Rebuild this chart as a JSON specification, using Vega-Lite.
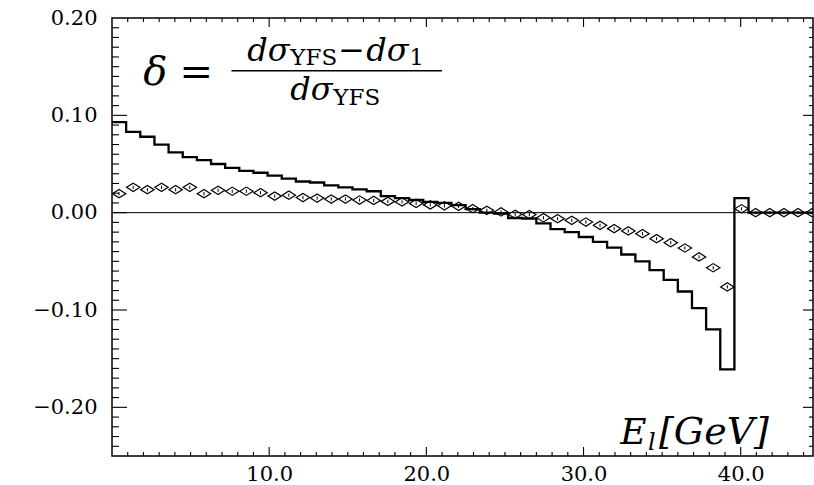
{
  "$schema": "https://vega.github.io/schema/vega-lite/v6.json",
  "width": 701,
  "height": 438,
  "autosize": {"type": "none"},
  "padding": {"left": 112, "top": 18, "right": 1, "bottom": 29},
  "background": "white",
  "config": {
    "view": {"stroke": "black", "strokeWidth": 1.5},
    "axis": {"domain": false, "grid": false, "ticks": false, "labelFont": "DejaVu Serif", "labelFontSize": 21, "labelColor": "black", "title": null, "labelOverlap": false, "labelFlush": false, "labelBound": false}
  },
  "datasets": {
    "steps": [
      {"e": 0, "delta": 0.093}, {"e": 0.9, "delta": 0.083}, {"e": 1.8, "delta": 0.078}, {"e": 2.7, "delta": 0.070},
      {"e": 3.6, "delta": 0.062}, {"e": 4.5, "delta": 0.057}, {"e": 5.4, "delta": 0.054}, {"e": 6.3, "delta": 0.050},
      {"e": 7.2, "delta": 0.046}, {"e": 8.1, "delta": 0.043}, {"e": 9.0, "delta": 0.041}, {"e": 9.9, "delta": 0.038},
      {"e": 10.8, "delta": 0.035}, {"e": 11.7, "delta": 0.032}, {"e": 12.6, "delta": 0.031}, {"e": 13.5, "delta": 0.028},
      {"e": 14.4, "delta": 0.026}, {"e": 15.3, "delta": 0.024}, {"e": 16.2, "delta": 0.022}, {"e": 17.1, "delta": 0.017},
      {"e": 18.0, "delta": 0.015}, {"e": 18.9, "delta": 0.013}, {"e": 19.8, "delta": 0.011}, {"e": 20.7, "delta": 0.010},
      {"e": 21.6, "delta": 0.0077}, {"e": 22.5, "delta": 0.0036}, {"e": 23.4, "delta": 0.0}, {"e": 24.3, "delta": -0.001},
      {"e": 25.2, "delta": -0.0055}, {"e": 26.1, "delta": -0.006}, {"e": 27.0, "delta": -0.011}, {"e": 27.9, "delta": -0.017},
      {"e": 28.8, "delta": -0.020}, {"e": 29.7, "delta": -0.025}, {"e": 30.6, "delta": -0.030}, {"e": 31.5, "delta": -0.036},
      {"e": 32.4, "delta": -0.043}, {"e": 33.3, "delta": -0.050}, {"e": 34.2, "delta": -0.059}, {"e": 35.1, "delta": -0.069},
      {"e": 36.0, "delta": -0.081}, {"e": 36.9, "delta": -0.098}, {"e": 37.8, "delta": -0.120}, {"e": 38.7, "delta": -0.161},
      {"e": 39.6, "delta": 0.015}, {"e": 40.5, "delta": 0.0}, {"e": 44.6, "delta": 0.0}
    ],
    "diamonds": [
      {"e": 0.45, "delta": 0.0195}, {"e": 1.35, "delta": 0.026}, {"e": 2.25, "delta": 0.0236}, {"e": 3.15, "delta": 0.026},
      {"e": 4.05, "delta": 0.0236}, {"e": 4.95, "delta": 0.026}, {"e": 5.85, "delta": 0.0195}, {"e": 6.75, "delta": 0.023},
      {"e": 7.65, "delta": 0.022}, {"e": 8.55, "delta": 0.022}, {"e": 9.45, "delta": 0.0205}, {"e": 10.35, "delta": 0.017},
      {"e": 11.25, "delta": 0.018}, {"e": 12.15, "delta": 0.0155}, {"e": 13.05, "delta": 0.015}, {"e": 13.95, "delta": 0.014},
      {"e": 14.85, "delta": 0.014}, {"e": 15.75, "delta": 0.013}, {"e": 16.65, "delta": 0.0126}, {"e": 17.55, "delta": 0.0116},
      {"e": 18.45, "delta": 0.011}, {"e": 19.35, "delta": 0.0095}, {"e": 20.25, "delta": 0.008}, {"e": 21.15, "delta": 0.007},
      {"e": 22.05, "delta": 0.0065}, {"e": 22.95, "delta": 0.0041}, {"e": 23.85, "delta": 0.0024}, {"e": 24.75, "delta": 0.0007},
      {"e": 25.65, "delta": -0.0017}, {"e": 26.55, "delta": -0.002}, {"e": 27.45, "delta": -0.0052}, {"e": 28.35, "delta": -0.0062},
      {"e": 29.25, "delta": -0.0079}, {"e": 30.15, "delta": -0.0096}, {"e": 31.05, "delta": -0.013}, {"e": 31.95, "delta": -0.0164},
      {"e": 32.85, "delta": -0.0188}, {"e": 33.75, "delta": -0.0216}, {"e": 34.65, "delta": -0.0267}, {"e": 35.55, "delta": -0.0308},
      {"e": 36.45, "delta": -0.0363}, {"e": 37.35, "delta": -0.0455}, {"e": 38.25, "delta": -0.0566}, {"e": 39.15, "delta": -0.0763},
      {"e": 40.05, "delta": 0.004}, {"e": 40.95, "delta": 0.0}, {"e": 41.85, "delta": 0.0}, {"e": 42.75, "delta": 0.0},
      {"e": 43.65, "delta": 0.0}, {"e": 44.55, "delta": 0.0}
    ],
    "xmajor": [{"v": 10}, {"v": 20}, {"v": 30}, {"v": 40}],
    "xminor": [{"v": 1}, {"v": 2}, {"v": 3}, {"v": 4}, {"v": 5}, {"v": 6}, {"v": 7}, {"v": 8}, {"v": 9},
      {"v": 11}, {"v": 12}, {"v": 13}, {"v": 14}, {"v": 15}, {"v": 16}, {"v": 17}, {"v": 18}, {"v": 19},
      {"v": 21}, {"v": 22}, {"v": 23}, {"v": 24}, {"v": 25}, {"v": 26}, {"v": 27}, {"v": 28}, {"v": 29},
      {"v": 31}, {"v": 32}, {"v": 33}, {"v": 34}, {"v": 35}, {"v": 36}, {"v": 37}, {"v": 38}, {"v": 39},
      {"v": 41}, {"v": 42}, {"v": 43}, {"v": 44}],
    "ymajor": [{"v": -0.2}, {"v": -0.1}, {"v": 0}, {"v": 0.1}],
    "yminor": [{"v": -0.24}, {"v": -0.23}, {"v": -0.22}, {"v": -0.21},
      {"v": -0.19}, {"v": -0.18}, {"v": -0.17}, {"v": -0.16}, {"v": -0.15}, {"v": -0.14}, {"v": -0.13}, {"v": -0.12}, {"v": -0.11},
      {"v": -0.09}, {"v": -0.08}, {"v": -0.07}, {"v": -0.06}, {"v": -0.05}, {"v": -0.04}, {"v": -0.03}, {"v": -0.02}, {"v": -0.01},
      {"v": 0.01}, {"v": 0.02}, {"v": 0.03}, {"v": 0.04}, {"v": 0.05}, {"v": 0.06}, {"v": 0.07}, {"v": 0.08}, {"v": 0.09},
      {"v": 0.11}, {"v": 0.12}, {"v": 0.13}, {"v": 0.14}, {"v": 0.15}, {"v": 0.16}, {"v": 0.17}, {"v": 0.18}, {"v": 0.19}],
    "one": [{}]
  },
  "layer": [
    {
      "data": {"name": "one"},
      "mark": {"type": "rule", "color": "black", "strokeWidth": 1},
      "encoding": {"y": {"datum": 0, "type": "quantitative", "scale": {"domain": [-0.25, 0.2], "nice": false, "zero": false}}}
    },
    {
      "data": {"name": "steps"},
      "mark": {"type": "line", "interpolate": "step-after", "color": "black", "strokeWidth": 2.3, "clip": true},
      "encoding": {
        "x": {"field": "e", "type": "quantitative", "scale": {"domain": [0, 44.6], "nice": false, "zero": false},
          "axis": {"orient": "bottom", "values": [10, 20, 30, 40], "format": ".1f", "labelPadding": 7}},
        "y": {"field": "delta", "type": "quantitative", "scale": {"domain": [-0.25, 0.2], "nice": false, "zero": false},
          "axis": {"orient": "left", "values": [-0.2, -0.1, 0, 0.1, 0.2], "format": ".2f", "labelPadding": 15}}
      }
    },
    {
      "data": {"name": "diamonds"},
      "mark": {"type": "point", "shape": "M-1,0L0,-0.62L1,0L0,0.62Z", "size": 180, "filled": false, "color": "black", "strokeWidth": 1.2, "opacity": 1, "clip": true},
      "encoding": {
        "x": {"field": "e", "type": "quantitative", "scale": {"domain": [0, 44.6], "nice": false, "zero": false}},
        "y": {"field": "delta", "type": "quantitative", "scale": {"domain": [-0.25, 0.2], "nice": false, "zero": false}}
      }
    },
    {
      "data": {"name": "diamonds"},
      "mark": {"type": "point", "shape": "M0,-0.25L0,0.25", "size": 169, "filled": false, "color": "black", "strokeWidth": 1, "opacity": 1, "clip": true},
      "encoding": {
        "x": {"field": "e", "type": "quantitative", "scale": {"domain": [0, 44.6], "nice": false, "zero": false}},
        "y": {"field": "delta", "type": "quantitative", "scale": {"domain": [-0.25, 0.2], "nice": false, "zero": false}}
      }
    },
    {
      "data": {"name": "xmajor"},
      "mark": {"type": "rule", "color": "black", "strokeWidth": 1.1},
      "encoding": {"x": {"field": "v", "type": "quantitative", "scale": {"domain": [0, 44.6], "nice": false, "zero": false}},
        "y": {"datum": -0.25, "type": "quantitative", "scale": {"domain": [-0.25, 0.2], "nice": false, "zero": false}},
        "y2": {"datum": -0.24075}}
    },
    {
      "data": {"name": "xminor"},
      "mark": {"type": "rule", "color": "black", "strokeWidth": 1.1},
      "encoding": {"x": {"field": "v", "type": "quantitative", "scale": {"domain": [0, 44.6], "nice": false, "zero": false}},
        "y": {"datum": -0.25, "type": "quantitative", "scale": {"domain": [-0.25, 0.2], "nice": false, "zero": false}},
        "y2": {"datum": -0.24589}}
    },
    {
      "data": {"name": "xmajor"},
      "mark": {"type": "rule", "color": "black", "strokeWidth": 1.1},
      "encoding": {"x": {"field": "v", "type": "quantitative", "scale": {"domain": [0, 44.6], "nice": false, "zero": false}},
        "y": {"datum": 0.2, "type": "quantitative", "scale": {"domain": [-0.25, 0.2], "nice": false, "zero": false}},
        "y2": {"datum": 0.19075}}
    },
    {
      "data": {"name": "xminor"},
      "mark": {"type": "rule", "color": "black", "strokeWidth": 1.1},
      "encoding": {"x": {"field": "v", "type": "quantitative", "scale": {"domain": [0, 44.6], "nice": false, "zero": false}},
        "y": {"datum": 0.2, "type": "quantitative", "scale": {"domain": [-0.25, 0.2], "nice": false, "zero": false}},
        "y2": {"datum": 0.19589}}
    },
    {
      "data": {"name": "ymajor"},
      "mark": {"type": "rule", "color": "black", "strokeWidth": 1.1},
      "encoding": {"y": {"field": "v", "type": "quantitative", "scale": {"domain": [-0.25, 0.2], "nice": false, "zero": false}},
        "x": {"datum": 0, "type": "quantitative", "scale": {"domain": [0, 44.6], "nice": false, "zero": false}},
        "x2": {"datum": 0.9544}}
    },
    {
      "data": {"name": "yminor"},
      "mark": {"type": "rule", "color": "black", "strokeWidth": 1.1},
      "encoding": {"y": {"field": "v", "type": "quantitative", "scale": {"domain": [-0.25, 0.2], "nice": false, "zero": false}},
        "x": {"datum": 0, "type": "quantitative", "scale": {"domain": [0, 44.6], "nice": false, "zero": false}},
        "x2": {"datum": 0.4454}}
    },
    {
      "data": {"name": "ymajor"},
      "mark": {"type": "rule", "color": "black", "strokeWidth": 1.1},
      "encoding": {"y": {"field": "v", "type": "quantitative", "scale": {"domain": [-0.25, 0.2], "nice": false, "zero": false}},
        "x": {"datum": 44.6, "type": "quantitative", "scale": {"domain": [0, 44.6], "nice": false, "zero": false}},
        "x2": {"datum": 43.9637}}
    },
    {
      "data": {"name": "yminor"},
      "mark": {"type": "rule", "color": "black", "strokeWidth": 1.1},
      "encoding": {"y": {"field": "v", "type": "quantitative", "scale": {"domain": [-0.25, 0.2], "nice": false, "zero": false}},
        "x": {"datum": 44.6, "type": "quantitative", "scale": {"domain": [0, 44.6], "nice": false, "zero": false}},
        "x2": {"datum": 44.3455}}
    },
    {
      "data": {"name": "one"},
      "mark": {"type": "text", "font": "DejaVu Serif", "fontStyle": "italic", "fontSize": 40, "align": "left", "baseline": "alphabetic", "color": "black"},
      "encoding": {"x": {"datum": 1.99, "type": "quantitative", "scale": {"domain": [0, 44.6], "nice": false, "zero": false}},
        "y": {"datum": 0.1316, "type": "quantitative", "scale": {"domain": [-0.25, 0.2], "nice": false, "zero": false}},
        "text": {"value": "δ"}}
    },
    {
      "data": {"name": "one"},
      "mark": {"type": "text", "font": "DejaVu Serif", "fontSize": 40, "align": "left", "baseline": "alphabetic", "color": "black"},
      "encoding": {"x": {"datum": 4.3, "type": "quantitative", "scale": {"domain": [0, 44.6], "nice": false, "zero": false}},
        "y": {"datum": 0.1316, "type": "quantitative", "scale": {"domain": [-0.25, 0.2], "nice": false, "zero": false}},
        "text": {"value": "="}}
    },
    {
      "data": {"name": "one"},
      "mark": {"type": "rule", "color": "black", "strokeWidth": 1.5},
      "encoding": {"x": {"datum": 7.6, "type": "quantitative", "scale": {"domain": [0, 44.6], "nice": false, "zero": false}},
        "x2": {"datum": 21.0},
        "y": {"datum": 0.1459, "type": "quantitative", "scale": {"domain": [-0.25, 0.2], "nice": false, "zero": false}}}
    },
    {
      "data": {"name": "one"},
      "mark": {"type": "text", "font": "DejaVu Serif", "fontStyle": "italic", "fontSize": 32, "align": "left", "baseline": "alphabetic", "color": "black"},
      "encoding": {"x": {"datum": 8.61, "type": "quantitative", "scale": {"domain": [0, 44.6], "nice": false, "zero": false}},
        "y": {"datum": 0.1562, "type": "quantitative", "scale": {"domain": [-0.25, 0.2], "nice": false, "zero": false}},
        "text": {"value": "dσ"}}
    },
    {
      "data": {"name": "one"},
      "mark": {"type": "text", "font": "DejaVu Serif", "fontSize": 23, "align": "left", "baseline": "alphabetic", "color": "black"},
      "encoding": {"x": {"datum": 11.34, "type": "quantitative", "scale": {"domain": [0, 44.6], "nice": false, "zero": false}},
        "y": {"datum": 0.1515, "type": "quantitative", "scale": {"domain": [-0.25, 0.2], "nice": false, "zero": false}},
        "text": {"value": "YFS"}}
    },
    {
      "data": {"name": "one"},
      "mark": {"type": "text", "font": "DejaVu Serif", "fontSize": 32, "align": "left", "baseline": "alphabetic", "color": "black"},
      "encoding": {"x": {"datum": 14.4, "type": "quantitative", "scale": {"domain": [0, 44.6], "nice": false, "zero": false}},
        "y": {"datum": 0.1562, "type": "quantitative", "scale": {"domain": [-0.25, 0.2], "nice": false, "zero": false}},
        "text": {"value": "−"}}
    },
    {
      "data": {"name": "one"},
      "mark": {"type": "text", "font": "DejaVu Serif", "fontStyle": "italic", "fontSize": 32, "align": "left", "baseline": "alphabetic", "color": "black"},
      "encoding": {"x": {"datum": 16.18, "type": "quantitative", "scale": {"domain": [0, 44.6], "nice": false, "zero": false}},
        "y": {"datum": 0.1562, "type": "quantitative", "scale": {"domain": [-0.25, 0.2], "nice": false, "zero": false}},
        "text": {"value": "dσ"}}
    },
    {
      "data": {"name": "one"},
      "mark": {"type": "text", "font": "DejaVu Serif", "fontSize": 23, "align": "left", "baseline": "alphabetic", "color": "black"},
      "encoding": {"x": {"datum": 18.91, "type": "quantitative", "scale": {"domain": [0, 44.6], "nice": false, "zero": false}},
        "y": {"datum": 0.1515, "type": "quantitative", "scale": {"domain": [-0.25, 0.2], "nice": false, "zero": false}},
        "text": {"value": "1"}}
    },
    {
      "data": {"name": "one"},
      "mark": {"type": "text", "font": "DejaVu Serif", "fontStyle": "italic", "fontSize": 32, "align": "left", "baseline": "alphabetic", "color": "black"},
      "encoding": {"x": {"datum": 11.34, "type": "quantitative", "scale": {"domain": [0, 44.6], "nice": false, "zero": false}},
        "y": {"datum": 0.1162, "type": "quantitative", "scale": {"domain": [-0.25, 0.2], "nice": false, "zero": false}},
        "text": {"value": "dσ"}}
    },
    {
      "data": {"name": "one"},
      "mark": {"type": "text", "font": "DejaVu Serif", "fontSize": 23, "align": "left", "baseline": "alphabetic", "color": "black"},
      "encoding": {"x": {"datum": 14.08, "type": "quantitative", "scale": {"domain": [0, 44.6], "nice": false, "zero": false}},
        "y": {"datum": 0.111, "type": "quantitative", "scale": {"domain": [-0.25, 0.2], "nice": false, "zero": false}},
        "text": {"value": "YFS"}}
    },
    {
      "data": {"name": "one"},
      "mark": {"type": "text", "font": "DejaVu Serif", "fontStyle": "italic", "fontSize": 36, "align": "left", "baseline": "alphabetic", "color": "black"},
      "encoding": {"x": {"datum": 32.34, "type": "quantitative", "scale": {"domain": [0, 44.6], "nice": false, "zero": false}},
        "y": {"datum": -0.2376, "type": "quantitative", "scale": {"domain": [-0.25, 0.2], "nice": false, "zero": false}},
        "text": {"value": "E"}}
    },
    {
      "data": {"name": "one"},
      "mark": {"type": "text", "font": "DejaVu Serif", "fontStyle": "italic", "fontSize": 24, "align": "left", "baseline": "alphabetic", "color": "black"},
      "encoding": {"x": {"datum": 34.1, "type": "quantitative", "scale": {"domain": [0, 44.6], "nice": false, "zero": false}},
        "y": {"datum": -0.2438, "type": "quantitative", "scale": {"domain": [-0.25, 0.2], "nice": false, "zero": false}},
        "text": {"value": "l"}}
    },
    {
      "data": {"name": "one"},
      "mark": {"type": "text", "font": "DejaVu Serif", "fontStyle": "italic", "fontSize": 38, "align": "left", "baseline": "alphabetic", "color": "black"},
      "encoding": {"x": {"datum": 34.8, "type": "quantitative", "scale": {"domain": [0, 44.6], "nice": false, "zero": false}},
        "y": {"datum": -0.2376, "type": "quantitative", "scale": {"domain": [-0.25, 0.2], "nice": false, "zero": false}},
        "text": {"value": "[GeV]"}}
    }
  ]
}
